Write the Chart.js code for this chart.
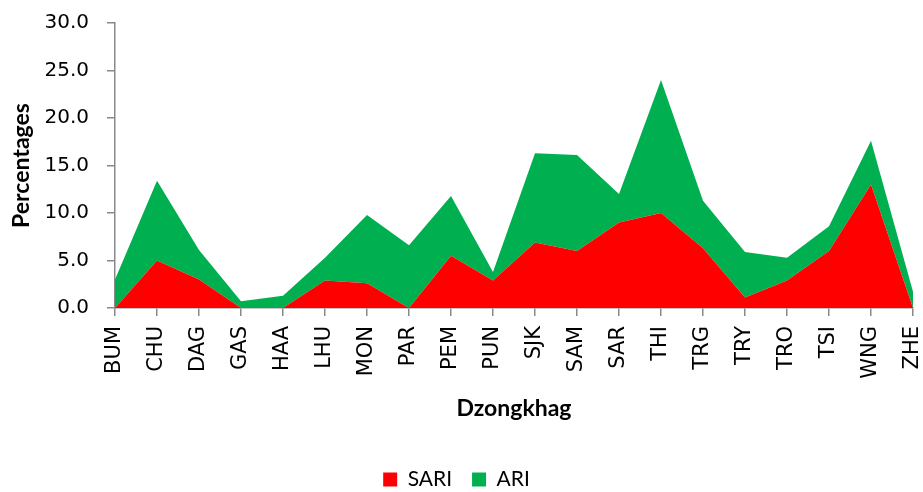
<!DOCTYPE html>
<html>
<head>
<meta charset="utf-8">
<script src="https://cdn.jsdelivr.net/npm/chart.js@4.4.1/dist/chart.umd.min.js"></script>
<style>
  html, body { margin: 0; padding: 0; background: #fff; }
  #wrap { width: 923px; height: 492px; }
</style>
</head>
<body>
<div id="wrap"><canvas id="grafico" width="923" height="492"></canvas></div>
<script>
// Dados
const dzongkhags = ['BUM', 'CHU', 'DAG', 'GAS', 'HAA', 'LHU', 'MON', 'PAR', 'PEM', 'PUN',
                    'SJK', 'SAM', 'SAR', 'THI', 'TRG', 'TRY', 'TRO', 'TSI', 'WNG', 'ZHE'];
const sari = [0, 5.0, 3.0, 0, 0, 2.9, 2.6, 0, 5.5, 2.9, 6.9, 6.0, 9.0, 10.0, 6.3, 1.1, 2.9, 6.0, 13.0, 0];
const ari = [3.0, 8.4, 3.1, 0.7, 1.3, 2.4, 7.2, 6.6, 6.3, 0.9, 9.4, 10.1, 3.0, 14.0, 5.0, 4.8, 2.4, 2.6, 4.6, 1.7];
const yTicks = [0, 5, 10, 15, 20, 25, 30];

const axisGray = '#898989';
const tickFont = { family: '"DejaVu Sans", sans-serif', size: 20 };
const xTickFont = { family: '"DejaVu Sans", sans-serif', size: 21 };
const titleFont = { family: 'Lato, "Open Sans", sans-serif', size: 23, weight: 'bold' };

const ctx = document.getElementById('grafico').getContext('2d');
window.grafico = new Chart(ctx, {
    type: 'line',
    data: {
        labels: dzongkhags,
        datasets: [{
            label: 'SARI',
            data: sari,
            backgroundColor: '#FF0000',
            borderColor: '#FF0000',
            borderWidth: 0,
            pointRadius: 0,
            tension: 0,
            fill: 'origin'
        }, {
            label: 'ARI',
            data: ari,
            backgroundColor: '#00B050',
            borderColor: '#00B050',
            borderWidth: 0,
            pointRadius: 0,
            tension: 0,
            fill: '-1'
        }]
    },
    options: {
        responsive: false,
        animation: false,
        layout: { padding: { top: 23, right: 10, left: 0, bottom: -8 } },
        plugins: {
            tooltip: { enabled: false },
            legend: {
                position: 'bottom',
                labels: {
                    boxWidth: 14,
                    boxHeight: 14,
                    padding: 20,
                    color: '#000',
                    font: { family: 'Lato, "Open Sans", sans-serif', size: 21 }
                }
            }
        },
        scales: {
            x: {
                offset: false,
                grid: { display: true, drawOnChartArea: false, color: axisGray, tickLength: 8, lineWidth: 1.5 },
                border: { color: axisGray, width: 1.5 },
                ticks: { color: '#000', font: xTickFont, minRotation: 90, maxRotation: 90, autoSkip: false, padding: 10 },
                title: { display: true, text: 'Dzongkhag', color: '#000', font: titleFont, padding: { top: 0, bottom: 27 } },
                afterFit: function(scale) {
                    scale.height = 141;
                    scale.paddingLeft = 0;
                    scale.paddingRight = 0;
                }
            },
            y: {
                stacked: true,
                min: 0,
                max: 30,
                grid: { display: true, drawOnChartArea: false, color: axisGray, tickLength: 8, lineWidth: 1.5 },
                border: { color: axisGray, width: 1.5 },
                ticks: {
                    color: '#000',
                    font: tickFont,
                    padding: 18,
                    stepSize: 5,
                    callback: function(value) {
                        return yTicks.includes(value) ? value.toFixed(1) : '';
                    }
                },
                title: { display: true, text: 'Percentages', color: '#000', font: titleFont, padding: { top: 8, bottom: 0 } },
                afterFit: function(scale) {
                    scale.width = 115;
                    scale.paddingTop = 0;
                    scale.paddingBottom = 0;
                }
            }
        }
    }
});
</script>
</body>
</html>
